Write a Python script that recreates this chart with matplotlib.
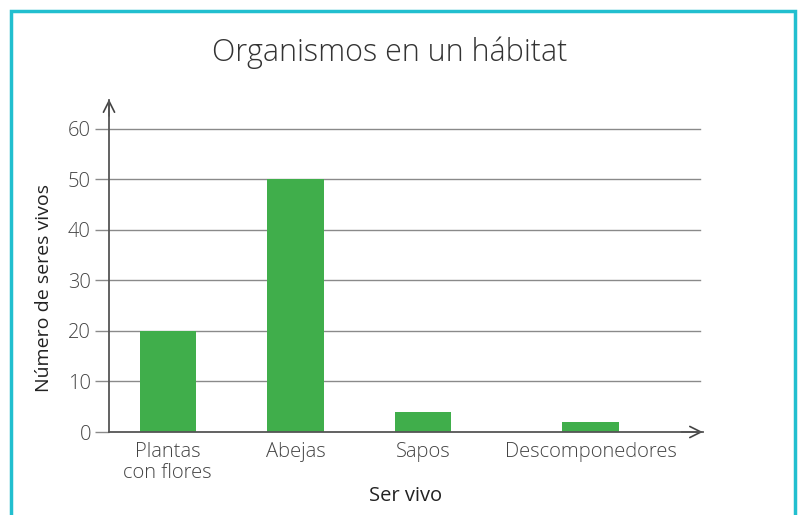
import matplotlib.pyplot as plt
from matplotlib.patches import Rectangle

# Data
categories = ["Plantas\ncon flores", "Abejas", "Sapos", "Descomponedores"]
counts = [20, 50, 4, 2]
yticks = [0, 10, 20, 30, 40, 50, 60]

# horizontal slot of each bar (last one sits a bit further out)
xpos = [0, 1, 2, 3.31]

plt.rcParams['font.family'] = ['Open Sans', 'DejaVu Sans']

fig = plt.figure(figsize=(8, 5.15), dpi=100)
ax = fig.add_axes([109 / 800, 1 - 432 / 515, (703 - 109) / 800, (432 - 100) / 515])

ax.bar(xpos, counts, width=0.44, color='#40ae4b', edgecolor='none', zorder=3)
ax.set_xlim(-0.46, 4.19)
ax.set_ylim(0, 65.7)

# horizontal grid lines
for t in yticks[1:]:
    ax.plot([-0.46, 4.17], [t, t], color='#8a8a8a', lw=1, zorder=1, clip_on=False)

for s in ['top', 'right']:
    ax.spines[s].set_visible(False)
for s in ['left', 'bottom']:
    ax.spines[s].set_color('#555555')
    ax.spines[s].set_linewidth(1.3)
    ax.spines[s].set_zorder(4)

# arrow heads on both axes
ax.annotate('', xy=(4.21, 0), xytext=(4.0, 0),
            arrowprops=dict(arrowstyle='->', color='#444444', lw=1.2, mutation_scale=20),
            annotation_clip=False)
ax.annotate('', xy=(-0.46, 66.4), xytext=(-0.46, 62),
            arrowprops=dict(arrowstyle='->', color='#444444', lw=1.2, mutation_scale=20),
            annotation_clip=False)

ax.set_yticks(yticks)
ax.set_yticklabels([str(t) for t in yticks])
ax.set_xticks(xpos)
ax.set_xticklabels(categories, linespacing=1.1)
ax.tick_params(axis='y', length=10, width=1, color='#8a8a8a', labelsize=14.5,
               labelcolor='#444444', pad=3)
ax.tick_params(axis='x', length=0, labelsize=14.5, labelcolor='#444444', pad=7)
for lab in ax.get_yticklabels() + ax.get_xticklabels():
    lab.set_fontweight(300)

ax.set_ylabel('Número de seres vivos', fontsize=14, color='#222222')
ax.yaxis.set_label_coords(-0.095, 28.5, transform=ax.get_yaxis_transform())
ax.set_xlabel('Ser vivo', fontsize=14.5, color='#222222', labelpad=2)

fig.text(390 / 800, 1 - 53 / 515, 'Organismos en un hábitat', ha='center', va='center',
         fontsize=22, fontweight=300, color='#333333')

# cyan frame open at the bottom
fig.patches.append(Rectangle((11 / 800, -0.05), (795 - 11) / 800, 1 - 11 / 515 + 0.05,
                             transform=fig.transFigure, fill=False,
                             edgecolor='#22bfcf', lw=2.5))

fig.savefig('out.png', dpi=100)
